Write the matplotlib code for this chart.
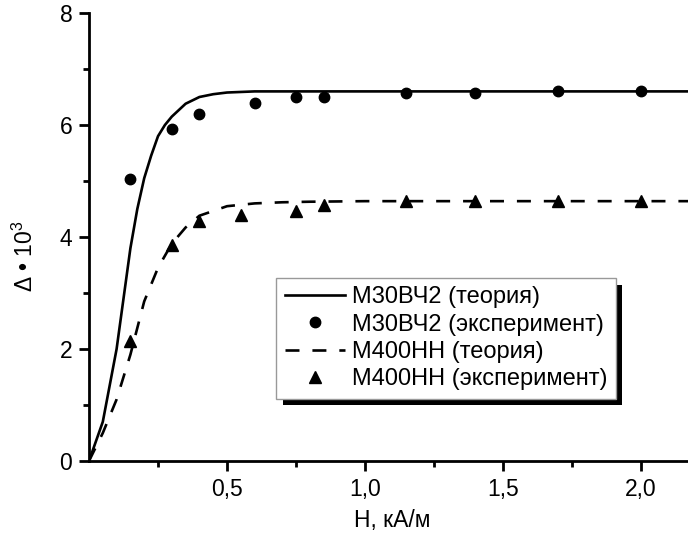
import matplotlib
matplotlib.use("Agg")
import matplotlib.pyplot as plt
from matplotlib.patches import Rectangle
from matplotlib.transforms import IdentityTransform
from matplotlib.ticker import FixedLocator, FixedFormatter

plt.rcParams['font.family'] = ['Liberation Sans', 'DejaVu Sans']
plt.rcParams['mathtext.fontset'] = 'custom'
plt.rcParams['mathtext.rm'] = 'Liberation Sans'
plt.rcParams['mathtext.it'] = 'Liberation Sans'

# ---- data ----
theory1_x = [0, 0.05, 0.10, 0.15, 0.175, 0.20, 0.225, 0.25, 0.275, 0.30, 0.35, 0.40, 0.45, 0.50, 0.60, 0.80, 1.00, 1.50, 2.17]
theory1_y = [0, 0.70, 2.00, 3.80, 4.50, 5.05, 5.45, 5.80, 6.00, 6.15, 6.38, 6.50, 6.55, 6.58, 6.60, 6.60, 6.60, 6.60, 6.60]
exp1_x = [0.15, 0.30, 0.40, 0.60, 0.75, 0.85, 1.15, 1.40, 1.70, 2.00]
exp1_y = [5.04, 5.93, 6.19, 6.40, 6.50, 6.50, 6.58, 6.58, 6.60, 6.61]

theory2_x = [0, 0.05, 0.10, 0.15, 0.20, 0.25, 0.30, 0.35, 0.40, 0.50, 0.60, 0.70, 0.80, 1.00, 2.17]
theory2_y = [0, 0.50, 1.10, 1.90, 2.85, 3.45, 3.88, 4.17, 4.38, 4.55, 4.60, 4.62, 4.63, 4.64, 4.64]
exp2_x = [0.15, 0.30, 0.40, 0.55, 0.75, 0.85, 1.15, 1.40, 1.70, 2.00]
exp2_y = [2.15, 3.86, 4.28, 4.40, 4.47, 4.58, 4.64, 4.64, 4.64, 4.64]

labels = ["М30ВЧ2 (теория)", "М30ВЧ2 (эксперимент)",
          "М400НН (теория)", "М400НН (эксперимент)"]
x_ticks = [0.5, 1.0, 1.5, 2.0]
x_tick_labels = ["0,5", "1,0", "1,5", "2,0"]
x_minor = [0.25, 0.75, 1.25, 1.75]
y_ticks = [0, 2, 4, 6, 8]
y_minor = [1, 3, 5, 7]
x_label = "H, кА/м"
y_label = r"Δ • 10$^3$"

fs = 16.5

fig = plt.figure(figsize=(6.88, 5.37), dpi=100)
ax = fig.add_axes([89/688, 76/537, 1 - 89/688, (461 - 13)/537])

lw = 1.9
ax.plot(theory1_x, theory1_y, color='black', lw=lw, label=labels[0], zorder=3)
ax.plot(exp1_x, exp1_y, 'o', color='black', ms=7.5, ls='none', label=labels[1], zorder=4)
ax.plot(theory2_x, theory2_y, color='black', lw=lw, ls=(0, (5.3, 4.9)), label=labels[2], zorder=3)
ax.plot(exp2_x, exp2_y, '^', color='black', ms=8, ls='none', label=labels[3], zorder=4)

ax.set_xlim(0, 2.17)
ax.set_ylim(0, 8)
for s in ['top', 'right']:
    ax.spines[s].set_visible(False)
for s in ['left', 'bottom']:
    ax.spines[s].set_linewidth(2.0)

ax.xaxis.set_major_locator(FixedLocator(x_ticks))
ax.xaxis.set_major_formatter(FixedFormatter(x_tick_labels))
ax.xaxis.set_minor_locator(FixedLocator(x_minor))
ax.yaxis.set_major_locator(FixedLocator(y_ticks))
ax.yaxis.set_minor_locator(FixedLocator(y_minor))
ax.tick_params(which='major', direction='out', length=7, width=2.0, labelsize=fs, pad=5)
ax.tick_params(which='minor', direction='out', length=4, width=2.0)
ax.tick_params(axis='x', which='major', pad=5)

ax.set_xlabel(x_label, fontsize=fs, va='center')
ax.xaxis.set_label_coords((392 - 89) / 599, (461 - 521) / 448)
ax.set_ylabel(y_label, fontsize=fs)
ax.yaxis.set_label_coords((38 - 89) / 599, (461 - 256) / 448)

leg = ax.legend(loc='upper left', bbox_to_anchor=(276/688, 1 - 278/537),
                bbox_transform=fig.transFigure, fontsize=17, frameon=True,
                fancybox=False, edgecolor='#999999', framealpha=1,
                borderpad=0.36, labelspacing=0.22, handlelength=2.55,
                handletextpad=0.3, borderaxespad=0)
leg.get_frame().set_linewidth(1.0)
leg.set_zorder(6)

fig.canvas.draw()
bb = leg.get_window_extent()
off = 6.5
shadow = Rectangle((bb.x0 + off, bb.y0 - off), bb.width, bb.height,
                   transform=IdentityTransform(), facecolor='black',
                   edgecolor='none', zorder=5.5, clip_on=False)
ax.add_artist(shadow)

fig.savefig("out.png", dpi=100)
